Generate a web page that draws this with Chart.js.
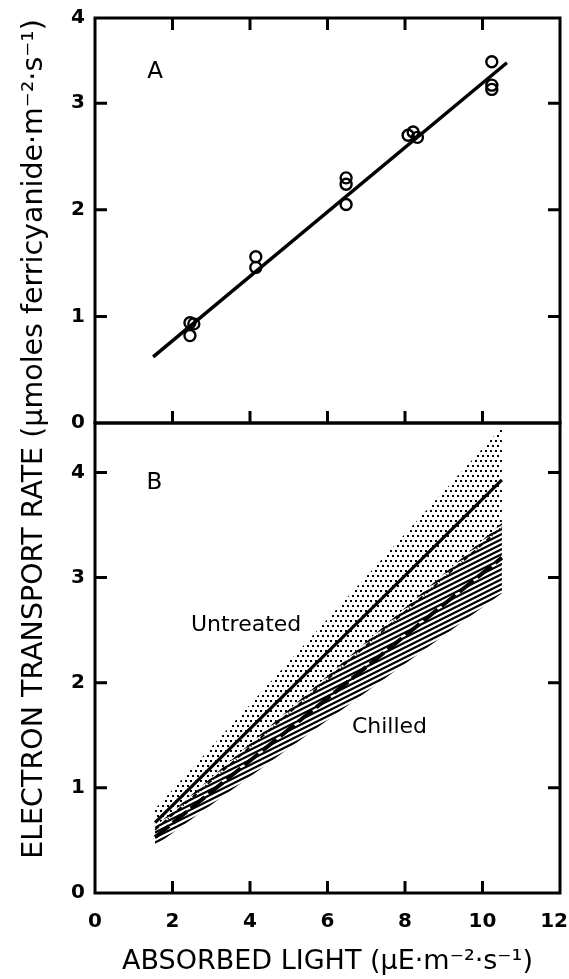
<!DOCTYPE html>
<html>
<head>
<meta charset="utf-8">
<script src="https://cdn.jsdelivr.net/npm/chart.js@4/dist/chart.umd.min.js"></script>
<style>
html,body{margin:0;padding:0;background:#fff;}
#wrap{width:569px;height:979px;position:relative;}
</style>
</head>
<body>
<div id="wrap"><canvas id="c" width="569" height="979"></canvas></div>
<script>
// ---------- Panel A : measured points and fitted line ----------
const aPointsX = [2.45, 2.45, 2.55, 4.15, 4.15, 6.48, 6.48, 6.48, 8.08, 8.21, 8.32, 10.24, 10.24, 10.24];
const aPointsY = [0.94, 0.82, 0.93, 1.56, 1.46, 2.30, 2.24, 2.05, 2.70, 2.73, 2.68, 3.39, 3.17, 3.13];
const aFitX = [1.5, 10.63];
const aFitY = [0.62, 3.38];

// ---------- Panel B : regression lines and ranges ----------
const bX = [1.55, 10.5];
const untreatedMean  = [0.67, 3.93];
const untreatedUpper = [0.80, 4.43];
const untreatedLower = [0.58, 3.40];
const chilledMean    = [0.53, 3.19];
const chilledUpper   = [0.63, 3.52];
const chilledLower   = [0.45, 2.85];
const chilledMarked  = [0.60, 3.48];

// ---------- Axes ----------
const xTickValues = [0, 2, 4, 6, 8, 10, 12];
const xTickLabels = ['0', '2', '4', '6', '8', '10', '12'];
const aTop = 3.8;
const aTickValues = [0, 1, 2, 3, aTop];
const aTickLabels = ['0', '1', '2', '3', '4'];
const bTop = 4.47;
const bTickValues = [0, 1, 2, 3, 4];
const bTickLabels = ['0', '1', '2', '3', '4'];
const innerXMarks = [2, 4, 6, 8, 10];
const aMarks = [1, 2, 3];
const bMarks = [1, 2, 3, 4];

const xTitle = 'ABSORBED LIGHT (\u03bcE\u00b7m\u207b\u00b2\u00b7s\u207b\u00b9)';
const yTitle = 'ELECTRON TRANSPORT RATE (\u03bcmoles ferricyanide\u00b7m\u207b\u00b2\u00b7s\u207b\u00b9)';

const FONT = "'DejaVu Sans', 'Liberation Sans', sans-serif";

function makeDots() {
  const c = document.createElement('canvas');
  c.width = 5; c.height = 10;
  const g = c.getContext('2d');
  g.fillStyle = '#000';
  g.fillRect(0, 0, 2, 2);
  g.fillRect(2, 5, 2, 2);
  return g.createPattern(c, 'repeat');
}
function makeHatch() {
  const w = 10, h = 5;
  const c = document.createElement('canvas');
  c.width = w; c.height = h;
  const g = c.getContext('2d');
  g.fillStyle = '#fff';
  g.fillRect(0, 0, w, h);
  g.strokeStyle = '#000';
  g.lineWidth = 2.2;
  g.beginPath();
  for (const off of [-h, 0, h]) {
    g.moveTo(-w, 2 * h + off);
    g.lineTo(2 * w, -h + off);
  }
  g.stroke();
  return g.createPattern(c, 'repeat');
}

const pts = (xs, ys) => xs.map((x, i) => ({x: x, y: ys[i]}));
const clear = 'rgba(0,0,0,0)';

const datasets = [
  {label: 'A points', data: pts(aPointsX, aPointsY), yAxisID: 'yA', showLine: false,
   pointRadius: 5.5, pointBorderWidth: 2.4, pointBorderColor: '#000', pointBackgroundColor: clear, order: 0},
  {label: 'A fit', data: pts(aFitX, aFitY), yAxisID: 'yA', borderColor: '#000', borderWidth: 3.5,
   pointRadius: 0, fill: false, order: 1},
  {label: 'Untreated', data: pts(bX, untreatedMean), yAxisID: 'yB', borderColor: '#000', borderWidth: 3.2,
   pointRadius: 0, fill: false, order: 1},
  {label: 'Chilled', data: pts(bX, chilledMean), yAxisID: 'yB', borderColor: '#000', borderWidth: 4,
   borderDash: [18, 5], pointRadius: 0, fill: false, order: 1},
  {label: 'Chilled (marked)', data: pts(bX, chilledMarked), yAxisID: 'yB', borderColor: '#000', borderWidth: 1.8,
   borderDash: [5, 2, 1, 2], pointRadius: 0, fill: false, order: 2},
  {label: 'Chilled range high', data: pts(bX, chilledUpper), yAxisID: 'yB', borderColor: clear, borderWidth: 0,
   pointRadius: 0, fill: '+1', backgroundColor: makeHatch(), order: 5},
  {label: 'Chilled range low', data: pts(bX, chilledLower), yAxisID: 'yB', borderColor: clear, borderWidth: 0,
   pointRadius: 0, fill: false, order: 6},
  {label: 'Untreated range high', data: pts(bX, untreatedUpper), yAxisID: 'yB', borderColor: clear, borderWidth: 0,
   pointRadius: 0, fill: '+1', backgroundColor: makeDots(), order: 10},
  {label: 'Untreated range low', data: pts(bX, untreatedLower), yAxisID: 'yB', borderColor: clear, borderWidth: 0,
   pointRadius: 0, fill: false, order: 11}
];

const tickFont = {family: FONT, size: 20, weight: 'bold'};
const lastX = xTickValues[xTickValues.length - 1];

function yScale(top, weight, values, labels) {
  return {
    type: 'linear', position: 'left', stack: 'v', stackWeight: weight,
    min: 0, max: top,
    afterBuildTicks: s => { s.ticks = values.map(v => ({value: v})); },
    afterFit: s => { s.width = 95; s.paddingTop = 0; s.paddingBottom = 0; },
    ticks: {font: tickFont, color: '#000', padding: 10, autoSkip: false,
            callback: v => labels[values.indexOf(v)]},
    grid: {display: false, drawTicks: false},
    border: {display: false}
  };
}

const framePlugin = {
  id: 'frame',
  afterDatasetsDraw(chart) {
    const ctx = chart.ctx;
    const x = chart.scales.x, yA = chart.scales.yA, yB = chart.scales.yB;
    const L = x.left, R = x.right, T = 12;
    ctx.save();
    ctx.strokeStyle = '#000';
    ctx.lineWidth = 3;
    ctx.strokeRect(L, yA.top, R - L, yA.bottom - yA.top);
    ctx.strokeRect(L, yB.top, R - L, yB.bottom - yB.top);
    ctx.beginPath();
    innerXMarks.forEach(v => {
      const px = x.getPixelForValue(v);
      ctx.moveTo(px, yA.top); ctx.lineTo(px, yA.top + T);
      ctx.moveTo(px, yA.bottom); ctx.lineTo(px, yA.bottom - T);
      ctx.moveTo(px, yB.bottom); ctx.lineTo(px, yB.bottom - T);
    });
    aMarks.forEach(v => {
      const py = yA.getPixelForValue(v);
      ctx.moveTo(L, py); ctx.lineTo(L + T, py);
      ctx.moveTo(R, py); ctx.lineTo(R - T, py);
    });
    bMarks.forEach(v => {
      const py = yB.getPixelForValue(v);
      ctx.moveTo(L, py); ctx.lineTo(L + T, py);
      ctx.moveTo(R, py); ctx.lineTo(R - T, py);
    });
    ctx.stroke();

    ctx.fillStyle = '#000';
    ctx.textBaseline = 'middle';
    // last x tick label kept inside the canvas (right-aligned like the reference)
    ctx.textAlign = 'right';
    ctx.font = 'bold 20px ' + FONT;
    ctx.fillText(xTickLabels[xTickLabels.length - 1], chart.width - 1, x.top + 29);

    ctx.textAlign = 'center';
    ctx.font = '23px ' + FONT;
    ctx.fillText('A', x.getPixelForValue(1.55), yA.getPixelForValue(3.29));
    ctx.fillText('B', x.getPixelForValue(1.53), yB.getPixelForValue(3.9));
    ctx.font = '22px ' + FONT;
    ctx.fillText('Untreated', x.getPixelForValue(3.9), yB.getPixelForValue(2.55));
    ctx.fillText('Chilled', x.getPixelForValue(7.6), yB.getPixelForValue(1.58));

    ctx.font = '28.5px ' + FONT;
    ctx.translate(35, 439);
    ctx.rotate(-Math.PI / 2);
    ctx.fillText(yTitle, 0, 0);
    ctx.restore();
  }
};

new Chart(document.getElementById('c'), {
  type: 'line',
  data: {datasets: datasets},
  options: {
    responsive: false,
    animation: false,
    events: [],
    layout: {padding: {top: 18, right: 9, bottom: 0, left: 0}},
    plugins: {legend: {display: false}, tooltip: {enabled: false}},
    scales: {
      x: {
        type: 'linear', position: 'bottom', min: 0, max: 12,
        afterBuildTicks: s => { s.ticks = xTickValues.map(v => ({value: v})); },
        afterFit: s => { s.height = 86; s.paddingLeft = 0; s.paddingRight = 0; },
        ticks: {font: tickFont, color: '#000', padding: 17, maxRotation: 0, autoSkip: false,
                callback: v => (v === lastX ? '' : xTickLabels[xTickValues.indexOf(v)])},
        grid: {display: false, drawTicks: false},
        border: {display: false},
        title: {display: true, text: xTitle, color: '#000',
                font: {family: FONT, size: 27}, padding: {top: 0, bottom: 1}}
      },
      yB: yScale(bTop, 470, bTickValues, bTickLabels),
      yA: yScale(aTop, 405, aTickValues, aTickLabels)
    }
  },
  plugins: [framePlugin]
});
</script>
</body>
</html>
